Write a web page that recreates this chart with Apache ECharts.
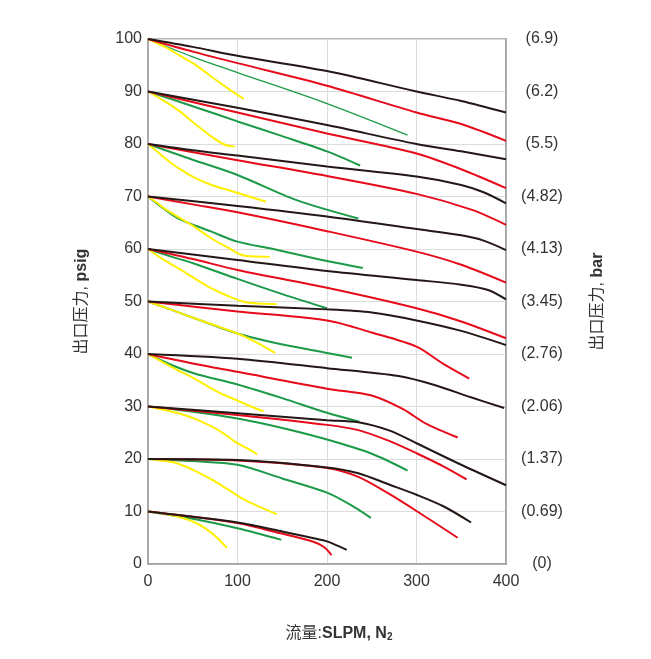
<!DOCTYPE html>
<html><head><meta charset="utf-8">
<script src="https://cdn.jsdelivr.net/npm/echarts@6/dist/echarts.min.js"></script>
<style>html,body{margin:0;padding:0;background:#fff}#c{width:651px;height:659px}</style>
</head><body><div id="c"></div>
<script>
// Right axis (bar) tick labels, from 0 psig to 100 psig
const barLabels = ['(0)','(0.69)','(1.37)','(2.06)','(2.76)','(3.45)','(4.13)','(4.82)','(5.5)','(6.2)','(6.9)'];

// Curves: [flow SLPM, outlet pressure psig]
const Y100 = [[0,100],[20,98.4],[35,96.9],[52,95.2],[71,92.8],[90,90.5],[107,88.6]];
const G100 = [[0,100],[50,96.6],[100,93.6],[200,87.7],[290,81.7]];
const R100 = [[0,100],[50,97.6],[100,95.4],[200,91.1],[300,86],[350,83.8],[400,80.6]];
const B100 = [[0,100],[50,98.5],[100,96.8],[200,93.9],[300,90],[350,88.2],[400,86]];

const Y90 = [[0,90],[17,88.3],[34,86.4],[52,83.9],[71,81.4],[84,80.0],[91,79.6],[97,79.5]];
const G90 = [[0,90],[50,87.2],[100,84.3],[150,81.5],[200,78.6],[237,75.9]];
const R90 = [[0,90],[100,86],[200,82],[300,78.2],[350,75.2],[400,71.6]];
const B90 = [[0,90],[100,86.9],[200,83.6],[300,80],[350,78.6],[400,77.1]];

const Y80 = [[0,80],[10,78.6],[19,77.3],[34,75.4],[52,73.6],[71,72.2],[100,70.7],[132,69.0]];
const G80 = [[0,80],[50,77],[100,74.1],[166,69.3],[235,65.8]];
const R80 = [[0,80],[100,76.9],[200,73.9],[300,70.5],[363,67.4],[400,64.6]];
const B80 = [[0,80],[50,78.8],[100,77.8],[200,75.7],[300,73.8],[350,72.2],[375,70.8],[400,68.7]];

const Y70 = [[0,70],[10,68.8],[21,67.4],[52,64.2],[71,62],[90,60.2],[104,58.9],[115,58.6],[136,58.5]];
const G70 = [[0,70],[15,68],[34,65.8],[71,63.3],[100,61.4],[140,60],[200,57.7],[240,56.4]];
const R70 = [[0,70],[50,68.5],[100,67],[200,63.4],[300,59.5],[350,57],[400,53.6]];
const B70 = [[0,70],[100,68.2],[200,66.2],[300,63.8],[350,62.6],[375,61.6],[400,59.8]];

const Y60 = [[0,60],[15,58.2],[34,56.3],[52,54.4],[71,52.5],[90,51],[108,49.9],[125,49.6],[144,49.5]];
const G60 = [[0,60],[25,58.6],[52,57.2],[100,54.3],[150,51.4],[200,48.7]];
const R60 = [[0,60],[50,58.1],[100,56],[200,52.6],[300,48.7],[350,46.2],[400,43]];
const B60 = [[0,60],[100,57.9],[200,55.8],[300,54.1],[350,53.2],[380,52.2],[400,50.4]];

const Y50 = [[0,50],[25,48.5],[52,46.8],[100,43.9],[120,42.3],[142,40.2]];
const G50 = [[0,50],[25,48.5],[52,46.8],[100,43.9],[145,42],[200,40.2],[228,39.3]];
const R50 = [[0,50],[100,48.1],[200,46.4],[250,44.1],[300,41.4],[330,38.1],[359,35.3]];
const B50 = [[0,50],[100,49.2],[200,48.5],[250,47.9],[300,46.4],[350,44.4],[400,41.7]];

const Y40 = [[0,40],[15,38.6],[32,37],[50,35.5],[64,34.1],[80,32.6],[99,31.2],[115,30],[129,29.1]];
const G40 = [[0,40],[25,38],[52,36.3],[100,34.2],[150,31.6],[200,28.8],[236,27.1]];
const R40 = [[0,40],[50,38.2],[100,36.6],[200,33.4],[250,32.1],[285,29.5],[310,26.8],[346,24.1]];
const B40 = [[0,40],[100,39.1],[200,37.3],[280,35.8],[320,34.1],[360,31.8],[398,29.7]];

const Y30 = [[0,30],[20,29.3],[34,28.7],[52,27.7],[71,26.2],[85,24.8],[97,23.3],[110,22.1],[122,20.9]];
const G30 = [[0,30],[50,29],[100,27.7],[150,25.9],[200,23.7],[250,21],[290,17.8]];
const R30 = [[0,30],[100,28.4],[200,26.5],[235,25.5],[270,23.4],[300,21.1],[330,18.6],[356,16.1]];
const B30 = [[0,30],[100,28.7],[200,27.4],[235,27],[270,25.4],[300,23],[350,18.9],[400,15]];

const Y20 = [[0,20],[20,19.6],[34,19.1],[52,17.8],[71,16.1],[90,14.1],[108,12.2],[126,10.8],[144,9.5]];
const G20 = [[0,20],[50,19.6],[100,18.9],[150,16.3],[200,13.6],[225,11.4],[249,8.8]];
const R20 = [[0,20],[100,19.7],[200,18.3],[235,16.6],[270,13.3],[300,10.1],[346,5.0]];
const B20 = [[0,20],[100,19.8],[200,18.4],[235,17.3],[270,15.1],[300,13.2],[330,11],[361,7.9]];

const Y10 = [[0,10],[20,9.5],[34,9],[50,8.1],[64,6.8],[76,5.2],[88,3.1]];
const G10 = [[0,10],[50,8.6],[100,6.8],[149,4.6]];
const R10 = [[0,10],[50,9],[100,7.8],[147,5.9],[184,4.3],[197,3.2],[205,1.7]];
const B10 = [[0,10],[50,9],[100,7.9],[150,6.2],[185,4.9],[200,4.3],[222,2.7]];

const greenCurves = [G100,G90,G80,G70,G60,G50,G40,G30,G20,G10];
const yellowCurves = [Y100,Y90,Y80,Y70,Y60,Y50,Y40,Y30,Y20,Y10];
const redCurves = [R100,R90,R80,R70,R60,R50,R40,R30,R20,R10];
const blackCurves = [B100,B90,B80,B70,B60,B50,B40,B30,B20,B10];

const FONT = '"Liberation Sans", Arial, "Noto Sans CJK SC", sans-serif';
const TXT = '#333333';

const groups = [
  {curves: greenCurves, color: '#1b9a47'},
  {curves: yellowCurves, color: '#fff000'},
  {curves: redCurves, color: '#e60a1a'},
  {curves: blackCurves, color: '#231815'}
];
const series = [];
groups.forEach(g => {
  g.curves.forEach((c, i) => {
    series.push({
      type: 'line', data: c, smooth: 0.3,
      showSymbol: false, silent: true,
      lineStyle: {color: g.color, width: (g.curves === greenCurves && i === 0) ? 1.3 : 2}
    });
  });
});

const chart = echarts.init(document.getElementById('c'));
chart.setOption({
  animation: false,
  backgroundColor: '#fff',
  grid: {left: 148, right: 145, top: 39, bottom: 95, show: true, borderColor: '#a0a0a0', borderWidth: 1.5},
  xAxis: {
    type: 'value', min: 0, max: 400, interval: 100,
    axisLine: {show: true, lineStyle: {color: '#a0a0a0', width: 1.5}},
    axisTick: {show: false},
    splitLine: {show: true, lineStyle: {color: '#dcdcdc', width: 1}},
    axisLabel: {color: TXT, fontSize: 16, fontFamily: FONT, margin: 10},
    name: '{a|流量:}{b|SLPM, N}{s|2}',
    nameLocation: 'middle', nameGap: 62,
    nameTextStyle: {
      padding: [0, 0, 0, 24],
      rich: {
        a: {fontSize: 16, fontFamily: FONT, color: TXT},
        b: {fontSize: 16, fontFamily: FONT, color: TXT, fontWeight: 'bold'},
        s: {fontSize: 10, fontFamily: FONT, color: TXT, fontWeight: 'bold', padding: [6, 0, 0, 0]}
      }
    }
  },
  yAxis: [{
    type: 'value', min: 0, max: 100, interval: 10, position: 'left',
    axisLine: {show: true, lineStyle: {color: '#a0a0a0', width: 1.5}},
    axisTick: {show: false},
    splitLine: {show: true, lineStyle: {color: '#dcdcdc', width: 1}},
    axisLabel: {color: TXT, fontSize: 16, fontFamily: FONT, margin: 6},
    name: '{a|出口压力, }{b|psig}',
    nameLocation: 'middle', nameGap: 58, nameRotate: 90,
    nameTextStyle: {
      rich: {
        a: {fontSize: 16, fontFamily: FONT, color: TXT},
        b: {fontSize: 16, fontFamily: FONT, color: TXT, fontWeight: 'bold'}
      }
    }
  }, {
    type: 'value', min: 0, max: 100, interval: 10, position: 'right',
    axisLine: {show: true, lineStyle: {color: '#a0a0a0', width: 1.5}},
    axisTick: {show: false},
    splitLine: {show: false},
    axisLabel: {color: TXT, fontSize: 16, fontFamily: FONT, margin: 36, align: 'center',
      formatter: v => barLabels[Math.round(v / 10)]},
    name: '{a|出口压力, }{b|bar}',
    nameLocation: 'middle', nameGap: 84, nameRotate: 90,
    nameTextStyle: {
      rich: {
        a: {fontSize: 16, fontFamily: FONT, color: TXT},
        b: {fontSize: 16, fontFamily: FONT, color: TXT, fontWeight: 'bold'}
      }
    }
  }],
  series: series
});
</script>
</body></html>
